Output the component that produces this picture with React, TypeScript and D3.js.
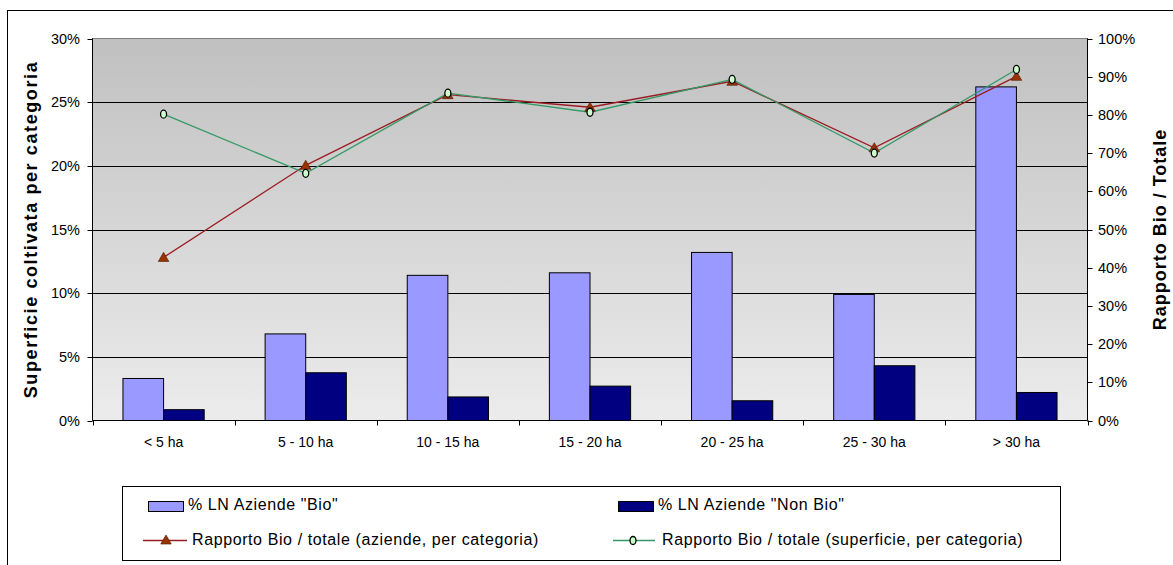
import React from 'react';
import * as d3 from 'd3';

const categories = ['< 5 ha', '5 - 10 ha', '10 - 15 ha', '15 - 20 ha', '20 - 25 ha', '25 - 30 ha', '> 30 ha'];
// % LN aziende (left axis)
const bioValues = [3.3, 6.8, 11.4, 11.6, 13.2, 9.9, 26.2];
const nonBioValues = [0.85, 3.75, 1.85, 2.7, 1.55, 4.3, 2.2];
// ratios (right axis)
const aziendeRatio = [42.7, 66.8, 85.3, 82.0, 88.8, 71.4, 90.1];
const superficieRatio = [80.2, 64.7, 85.7, 80.7, 89.3, 70.0, 91.9];

const leftTicks = [0, 5, 10, 15, 20, 25, 30];
const rightTicks = [0, 10, 20, 30, 40, 50, 60, 70, 80, 90, 100];

const legendLabels = [
  '% LN Aziende "Bio"',
  '% LN Aziende "Non Bio"',
  'Rapporto Bio / totale (aziende, per categoria)',
  'Rapporto Bio / totale (superficie, per categoria)',
];

const W = 1173;
const H = 565;
const plot = { left: 92.5, right: 1087.5, top: 38.5, bottom: 420.5 };
const font = '"Liberation Sans", Arial, sans-serif';

const BIO = '#9999ff';
const NONBIO = '#000080';
const RED = '#9b1b22';
const GREEN = '#339966';

const triangle = d3.symbol().type(d3.symbolTriangle).size(48)() as string;

const Triangle = ({ x, y }: { x: number; y: number }) => (
  <path d={triangle} transform={`translate(${x},${y + 1})`} fill="#993300" stroke="#4a1500" strokeWidth={0.6} />
);
const Circle = ({ x, y }: { x: number; y: number }) => (
  <ellipse cx={x} cy={y} rx={3} ry={4} fill="#ccffcc" stroke="#000" strokeWidth={1.3} />
);

export default function App() {
  const x = d3.scaleBand<string>().domain(categories).range([plot.left, plot.right]);
  const sub = d3.scaleBand<string>().domain(['bio', 'nonbio']).range([0, x.bandwidth()]).paddingOuter(0.75);
  const yL = d3.scaleLinear().domain([0, 30]).range([plot.bottom, plot.top]);
  const yR = d3.scaleLinear().domain([0, 100]).range([plot.bottom, plot.top]);
  const cx = (c: string) => (x(c) as number) + x.bandwidth() / 2;

  const line = d3.line<number>().x((_, i) => cx(categories[i])).y(v => yR(v));

  const boundaries = categories.map(c => x(c) as number).concat([plot.right]);

  return (
    <svg width={W} height={H} style={{ position: 'absolute', left: 0, top: 0, background: '#fff' }} fontFamily={font}>
      <defs>
        <linearGradient id="bg" x1="0" y1="0" x2="0" y2="1">
          <stop offset="0%" stopColor="#c0c0c0" />
          <stop offset="100%" stopColor="#ececec" />
        </linearGradient>
      </defs>
      <rect x={7.5} y={10.5} width={1200} height={600} fill="#fff" stroke="#000" strokeWidth={1} />

      {/* plot area */}
      <rect x={plot.left} y={plot.top} width={plot.right - plot.left} height={plot.bottom - plot.top} fill="url(#bg)" stroke="#808080" />
      {leftTicks.slice(1, -1).map(t => (
        <line key={t} x1={plot.left} x2={plot.right} y1={Math.round(yL(t)) + 0.5} y2={Math.round(yL(t)) + 0.5} stroke="#000" />
      ))}

      {/* bars */}
      {categories.map((c, i) => (
        <g key={c}>
          <rect x={(x(c) as number) + (sub('bio') as number)} y={yL(bioValues[i])} width={sub.bandwidth()}
            height={yL(0) - yL(bioValues[i])} fill={BIO} stroke="#000" strokeWidth={1} />
          <rect x={(x(c) as number) + (sub('nonbio') as number)} y={yL(nonBioValues[i])} width={sub.bandwidth()}
            height={yL(0) - yL(nonBioValues[i])} fill={NONBIO} stroke="#000" strokeWidth={1} />
        </g>
      ))}

      {/* axes */}
      <line x1={plot.left} x2={plot.left} y1={plot.top} y2={plot.bottom} stroke="#000" />
      <line x1={plot.right} x2={plot.right} y1={plot.top} y2={plot.bottom} stroke="#000" />
      <line x1={plot.left} x2={plot.right} y1={plot.bottom} y2={plot.bottom} stroke="#000" />
      {boundaries.map((b, i) => (
        <line key={i} x1={Math.round(b) + 0.5} x2={Math.round(b) + 0.5} y1={plot.bottom} y2={plot.bottom + 5} stroke="#000" />
      ))}
      {leftTicks.map(t => (
        <g key={t}>
          <line x1={plot.left - 5} x2={plot.left} y1={Math.round(yL(t)) + 0.5} y2={Math.round(yL(t)) + 0.5} stroke="#000" />
          <text x={80} y={yL(t)} dy="0.35em" textAnchor="end" fontSize={14.5}>{t}%</text>
        </g>
      ))}
      {rightTicks.map(t => (
        <g key={t}>
          <line x1={plot.right} x2={plot.right + 5} y1={Math.round(yR(t)) + 0.5} y2={Math.round(yR(t)) + 0.5} stroke="#000" />
          <text x={1098} y={yR(t)} dy="0.35em" textAnchor="start" fontSize={14.5}>{t}%</text>
        </g>
      ))}
      {categories.map(c => (
        <text key={c} x={cx(c)} y={447} textAnchor="middle" fontSize={14}>{c}</text>
      ))}

      {/* axis titles */}
      <text transform={`translate(37,${(plot.top + plot.bottom) / 2}) rotate(-90)`} textAnchor="middle"
        fontSize={18} fontWeight="bold" letterSpacing={1.6}>Superficie coltivata per categoria</text>
      <text transform={`translate(1166,${(plot.top + plot.bottom) / 2}) rotate(-90)`} textAnchor="middle"
        fontSize={18} fontWeight="bold" letterSpacing={1}>Rapporto Bio / Totale</text>

      {/* lines */}
      <path d={line(aziendeRatio) as string} fill="none" stroke={RED} strokeWidth={1.3} />
      <path d={line(superficieRatio) as string} fill="none" stroke={GREEN} strokeWidth={1.3} />
      {aziendeRatio.map((v, i) => <Triangle key={i} x={cx(categories[i])} y={yR(v)} />)}
      {superficieRatio.map((v, i) => <Circle key={i} x={cx(categories[i])} y={yR(v)} />)}

      {/* legend */}
      <rect x={122.5} y={486.5} width={938} height={74} fill="#fff" stroke="#000" />
      <rect x={148.5} y={501.5} width={35} height={10} fill={BIO} stroke="#000" />
      <text x={188} y={510} fontSize={16} letterSpacing={0.6}>{legendLabels[0]}</text>
      <rect x={618.5} y={501.5} width={35} height={10} fill={NONBIO} stroke="#000" />
      <text x={658} y={510} fontSize={16} letterSpacing={0.6}>{legendLabels[1]}</text>
      <line x1={143} x2={187} y1={540.5} y2={540.5} stroke={RED} strokeWidth={1.3} />
      <Triangle x={166} y={540} />
      <text x={192} y={545} fontSize={16} letterSpacing={0.6}>{legendLabels[2]}</text>
      <line x1={613} x2={655} y1={540.5} y2={540.5} stroke={GREEN} strokeWidth={1.3} />
      <Circle x={633} y={540.5} />
      <text x={662} y={545} fontSize={16} letterSpacing={0.6}>{legendLabels[3]}</text>
    </svg>
  );
}
